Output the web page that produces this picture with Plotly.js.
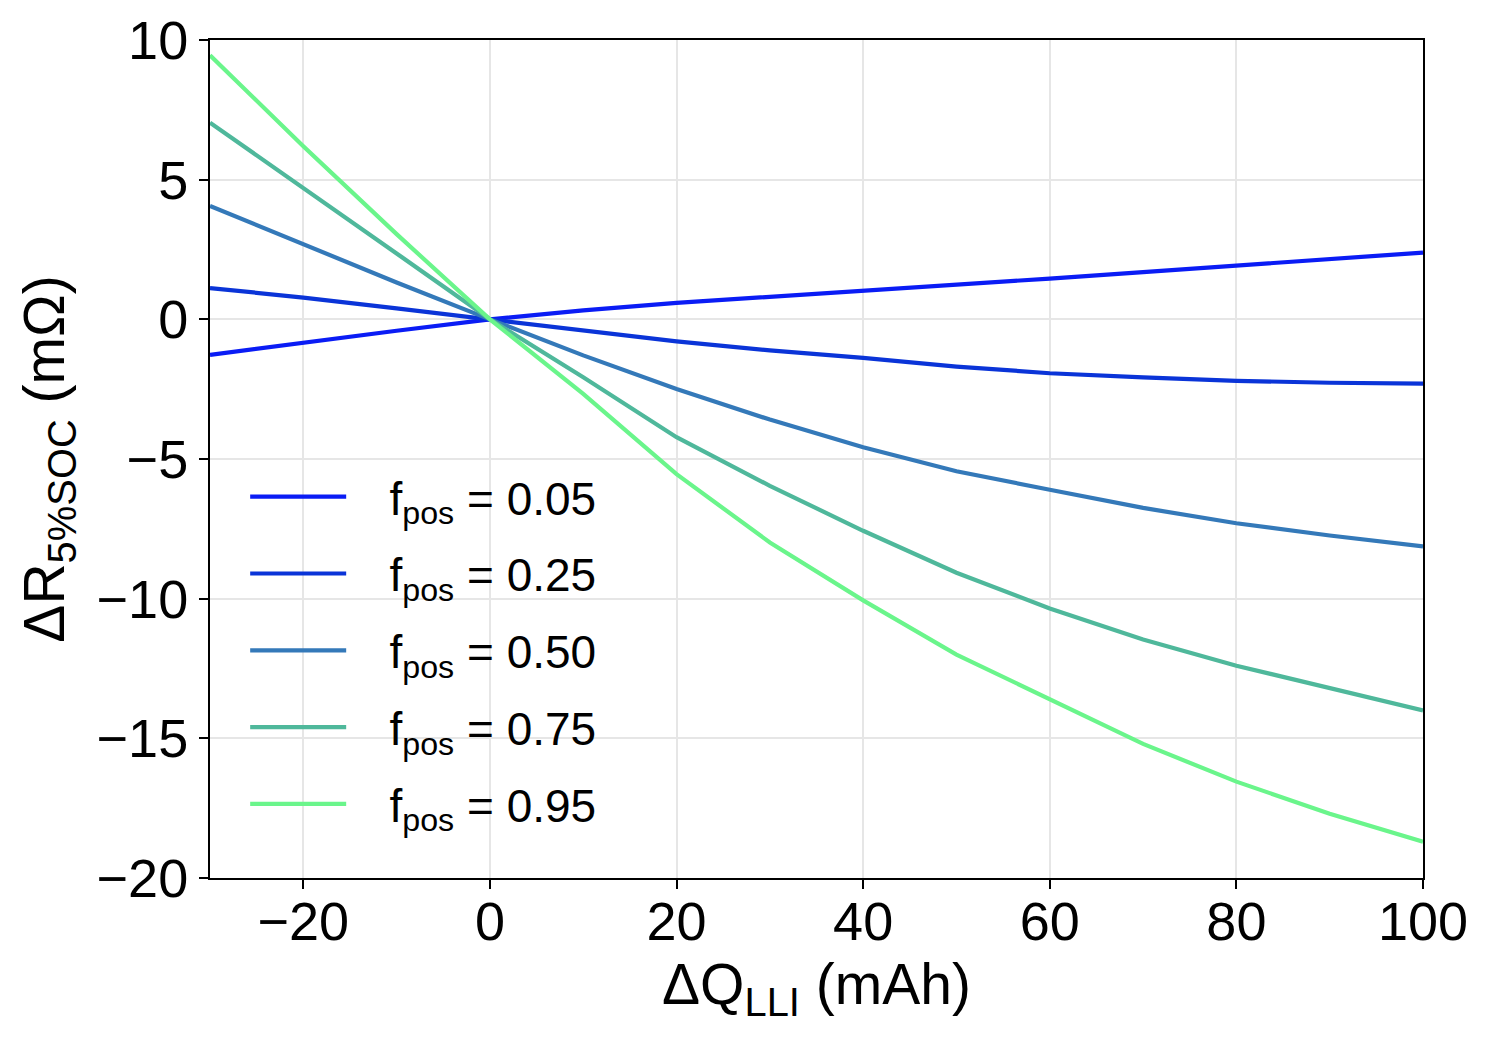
<!DOCTYPE html>
<html>
<head>
<meta charset="utf-8">
<script src="https://cdn.plot.ly/plotly-3.0.1.min.js"></script>
<style>
  body { margin: 0; background: #fff; }
  #chart { width: 1490px; height: 1038px; }
</style>
</head>
<body>
<div id="chart"></div>
<script>
// values
const dQ = [-30, -20, -10, 0, 10, 20, 30, 40, 50, 60, 70, 80, 90, 100];

const fLabels = ['0.05', '0.25', '0.50', '0.75', '0.95'];
const fColors = ['#0a1cf5', '#0a34d8', '#3479b9', '#4fb89b', '#6af58b'];

const r005 = [-1.27, -0.83, -0.41, 0, 0.32, 0.59, 0.80, 1.02, 1.24, 1.46, 1.69, 1.92, 2.16, 2.39];
const r025 = [1.12, 0.78, 0.39, 0, -0.42, -0.79, -1.11, -1.38, -1.69, -1.93, -2.08, -2.20, -2.27, -2.30];
const r050 = [4.06, 2.68, 1.32, 0, -1.29, -2.49, -3.59, -4.58, -5.44, -6.10, -6.75, -7.30, -7.74, -8.13];
const r075 = [7.04, 4.72, 2.36, 0, -2.07, -4.22, -5.96, -7.57, -9.07, -10.35, -11.46, -12.40, -13.20, -14.00];
const r095 = [9.45, 6.20, 3.05, 0, -2.67, -5.54, -7.99, -10.06, -12.00, -13.60, -15.20, -16.55, -17.70, -18.70];

const allR = [r005, r025, r050, r075, r095];

function plotChart() {
    const FONT = 'Liberation Sans, Arial, sans-serif';

    let chartData = allR.map((ys, i) => ({
        mode: 'lines',
        x: dQ,
        y: ys,
        // leading spaces push the label away from the long legend line
        name: '\u00a0\u00a0\u00a0f<sub>pos</sub> = ' + fLabels[i],
        legendgroup: 'g' + i,
        line: { color: fColors[i], width: 4.2 },
    }));

    const axisCommon = {
        showline: true,
        linecolor: '#000',
        linewidth: 2,
        mirror: true,
        ticks: 'outside',
        ticklen: 9,
        tickwidth: 2,
        tickcolor: '#000',
        showgrid: true,
        gridcolor: '#e6e6e6',
        gridwidth: 2,
        zeroline: false,
        tickfont: { family: FONT, size: 54, color: '#000' },
    };

    const layout = {
        width: 1490,
        height: 1038,
        paper_bgcolor: '#fff',
        plot_bgcolor: '#fff',
        margin: { l: 210, r: 67, t: 40, b: 160 },
        showlegend: true,
        legend: {
            x: 0.029,
            y: 0.045,
            xanchor: 'left',
            yanchor: 'bottom',
            bgcolor: 'rgba(0,0,0,0)',
            borderwidth: 0,
            itemwidth: 96,
            tracegroupgap: 14,
            font: { family: FONT, size: 46, color: '#000' },
        },
        xaxis: Object.assign({}, axisCommon, {
            range: [-30, 100],
            tickvals: [-20, 0, 20, 40, 60, 80, 100],
            ticklabelstandoff: -14,
            title: {
                text: 'ΔQ<sub>LLI</sub> (mAh)',
                font: { family: FONT, size: 57, color: '#000' },
                standoff: 14,
            },
        }),
        yaxis: Object.assign({}, axisCommon, {
            range: [-20, 10],
            dtick: 5,
            title: {
                text: 'ΔR<sub>5%SOC</sub> (mΩ)',
                font: { family: FONT, size: 57, color: '#000' },
                standoff: 14,
            },
        }),
    };

    Plotly.newPlot('chart', chartData, layout, { displayModeBar: false, staticPlot: true });
}

plotChart();
</script>
</body>
</html>
